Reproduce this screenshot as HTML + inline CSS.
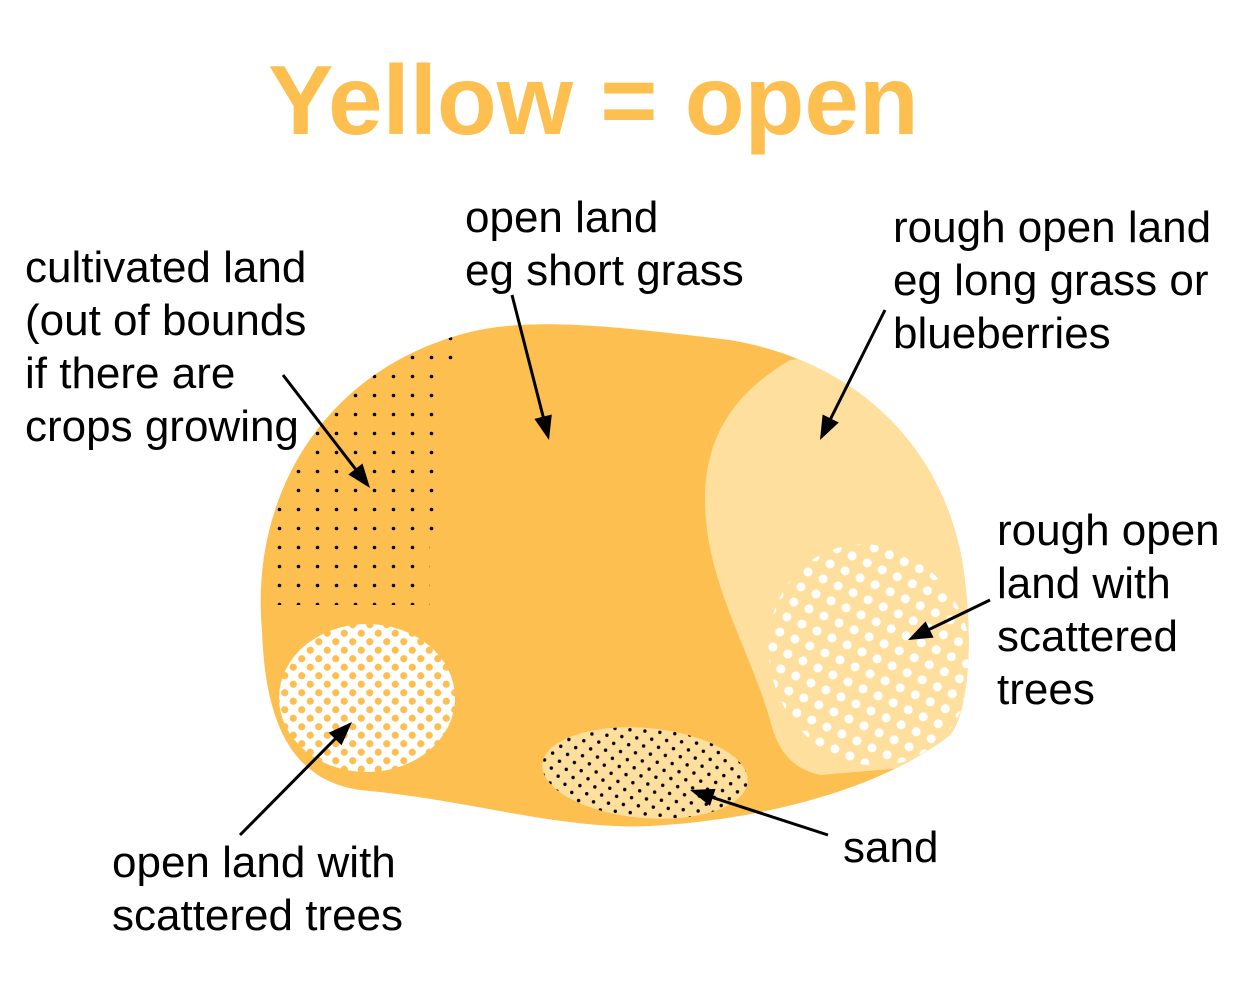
<!DOCTYPE html>
<html><head><style>
html,body{margin:0;padding:0;background:#fff;}
svg{display:block;}
text{font-family:"Liberation Sans",Arial,sans-serif;}
</style></head><body>
<svg width="1250" height="991" viewBox="0 0 1250 991" xmlns="http://www.w3.org/2000/svg">
<defs>
<clipPath id="blob"><path id="bp" d="M262 630 C250 500 320 370 470 332 C540 315 640 330 730 340 C850 360 940 440 962 560 C975 640 968 715 950 735 C880 790 760 820 650 826 C560 830 470 800 360 790 C290 780 265 720 262 630 Z"/></clipPath>
<pattern id="sq" width="19" height="19" patternUnits="userSpaceOnUse" x="4" y="6"><circle cx="9.5" cy="9.5" r="1.8" fill="#000"/></pattern>
<pattern id="sand" width="15" height="15" patternUnits="userSpaceOnUse" x="0" y="0"><rect width="15" height="15" fill="#FEDF9E"/><circle cx="3.75" cy="3.75" r="1.7" fill="#000"/><circle cx="11.25" cy="11.25" r="1.7" fill="#000"/></pattern>
<pattern id="wd" width="23.5" height="23.4" patternUnits="userSpaceOnUse"><rect width="23.5" height="23.4" fill="#FEDF9E"/><circle cx="5.9" cy="5.85" r="4.5" fill="#fff"/><circle cx="17.6" cy="17.55" r="4.5" fill="#fff"/></pattern>
<pattern id="od" width="17" height="17" patternUnits="userSpaceOnUse"><rect width="17" height="17" fill="#fff"/><circle cx="4.25" cy="4.25" r="3.6" fill="#FDBF4F"/><circle cx="12.75" cy="12.75" r="3.6" fill="#FDBF4F"/></pattern>
</defs>
<text x="268" y="134" font-size="98" font-weight="bold" fill="#FDBF4F">Yellow = open</text>
<use href="#bp" fill="#FDBF4F"/>
<g clip-path="url(#blob)">
<path d="M790 360 C740 390 705 430 705 500 C705 580 750 650 770 720 C780 760 800 770 820 775 L1000 760 L1000 340 Z" fill="#FEDF9E"/>
<path d="M265 325 L465 325 L465 370 L448 370 L448 545 L430 545 L430 605 L265 605 Z" fill="url(#sq)"/>
<ellipse cx="870" cy="655" rx="100" ry="112" transform="rotate(-20 870 655)" fill="url(#wd)"/>
</g>
<ellipse cx="367" cy="698" rx="88" ry="74" fill="url(#od)"/>
<ellipse cx="645" cy="773" rx="103" ry="45" transform="rotate(5 645 773)" fill="url(#sand)"/>
<g stroke="#000" stroke-width="3" fill="none">
<line x1="512" y1="295" x2="544" y2="420"/>
<line x1="283" y1="375" x2="357" y2="471"/>
<line x1="885" y1="310" x2="830" y2="420"/>
<line x1="990" y1="600" x2="928" y2="630"/>
<line x1="828" y1="835" x2="711" y2="797"/>
<line x1="240" y1="835" x2="337" y2="737"/>
</g>
<g fill="#000">
<polygon points="549,440 534.4,418.9 551.8,414.5"/>
<polygon points="370,488 348.3,474.5 362.5,463.5"/>
<polygon points="820,440 822.6,414.5 838.8,422.5"/>
<polygon points="908,640 925.6,621.4 933.6,637.6"/>
<polygon points="690,790 715.6,788.9 710,805.9"/>
<polygon points="352,722 341.5,745.3 328.7,732.7"/>
</g>
<g font-size="44" fill="#000">
<text x="465" y="232">open land</text>
<text x="465" y="285">eg short grass</text>
<text x="25" y="282">cultivated land</text>
<text x="25" y="335">(out of bounds</text>
<text x="25" y="388">if there are</text>
<text x="25" y="441">crops growing</text>
<text x="893" y="242">rough open land</text>
<text x="893" y="295">eg long grass or</text>
<text x="893" y="348">blueberries</text>
<text x="997" y="545">rough open</text>
<text x="997" y="598">land with</text>
<text x="997" y="651">scattered</text>
<text x="997" y="704">trees</text>
<text x="843" y="862">sand</text>
<text x="112" y="877">open land with</text>
<text x="112" y="930">scattered trees</text>
</g>
</svg>
</body></html>
